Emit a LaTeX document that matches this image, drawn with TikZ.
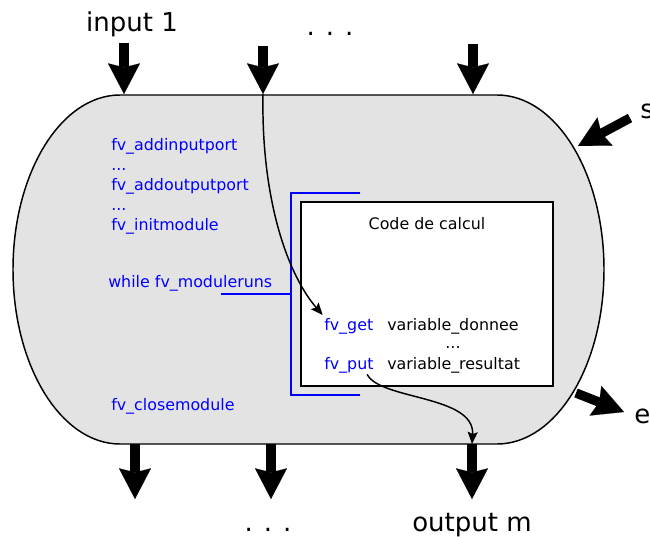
\documentclass[tikz,border=0pt]{standalone}
\usepackage{fontspec}
\setmainfont{DejaVu Sans}
\usetikzlibrary{arrows.meta}
\definecolor{shellgray}{RGB}{227,227,227}
\definecolor{apiblue}{RGB}{0,0,255}

\begin{document}
\begin{tikzpicture}[
    x=0.75pt, y=-0.75pt,
    port/.style={line width=7pt, -{Stealth[length=23pt, width=24pt, inset=3pt, line width=0.1pt]}},
    flow/.style={line width=1.1pt, -{Stealth[length=9pt, width=7.5pt, inset=1.5pt]}},
    biglabel/.style={font=\fontsize{19.5}{23}\selectfont, inner sep=0pt, anchor=base},
    api/.style={text=apiblue, font=\fontsize{11.9}{15}\selectfont, inner sep=0pt, anchor=base west},
    code/.style={font=\fontsize{11.9}{15}\selectfont, inner sep=0pt, anchor=base west}
]
    \useasboundingbox (0,0) rectangle (650,536);

    % Module
    \draw[fill=shellgray, line width=1.1pt] (120,95) -- (497,95)
        arc[start angle=-90, end angle=90, x radius=107, y radius=174.5]
        -- (120,444)
        arc[start angle=90, end angle=270, x radius=107, y radius=174.5] -- cycle;

    % Nodes
    \node[biglabel] (lin1) at (132,31) {input 1};
    \node[biglabel] (ldotsin) at (330,35) {. . .};
    \node[biglabel] (ldotsout) at (268,531) {. . .};
    \node[biglabel] (loutm) at (472,531) {output m};
    \node[biglabel, anchor=base west] (ls) at (640,118) {s};
    \node[biglabel, anchor=base west] (le) at (634,423) {e};

    \node[api] (addin) at (111,150) {fv\_addinputport};
    \node[api] (dots1) at (111,170) {...};
    \node[api] (addout) at (111,190) {fv\_addoutputport};
    \node[api] (dots2) at (111,210) {...};
    \node[api] (init) at (111,230) {fv\_initmodule};
    \node[api] (loop) at (108,287) {while fv\_moduleruns};
    \node[api] (close) at (111,410) {fv\_closemodule};

    \node[draw, fill=white, line width=1.5pt, minimum width=189pt, minimum height=138pt] (calc) at (427,294) {};
    \node[code, anchor=base] (title) at (427,229) {Code de calcul};
    \node[api] (get) at (324,330) {fv\_get};
    \node[code] (donnee) at (387,330) {variable\_donnee};
    \node[code, anchor=base] (dots3) at (453,348) {...};
    \node[api] (put) at (324,369) {fv\_put};
    \node[code] (resultat) at (387,369) {variable\_resultat};

    % Loop bracket
    \draw[apiblue, line width=1.1pt] (221,294) -- (291,294);
    \draw[apiblue, line width=1.1pt] (360,193) -- (291,193) -- (291,395) -- (360,395);

    % Ports
    \coordinate (in1a) at (124,43);  \coordinate (in1) at (124,94);
    \coordinate (in2a) at (263,46);  \coordinate (in2) at (263,94);
    \coordinate (in3a) at (473,44);  \coordinate (in3) at (473,94);
    \coordinate (out1a) at (135,444); \coordinate (out1) at (135,499);
    \coordinate (out2a) at (271,444); \coordinate (out2) at (271,499);
    \coordinate (out3a) at (472,444); \coordinate (out3) at (472,499);
    \coordinate (sa) at (630,118);   \coordinate (sb) at (578,146);
    \coordinate (ea) at (576,393);   \coordinate (eb) at (624,412);

    % Arrows
    \foreach \a/\b in {in1a/in1, in2a/in2, in3a/in3, out1a/out1, out2a/out2, out3a/out3, sa/sb, ea/eb}
        \draw[port] (\a) -- (\b);

    \draw[flow] (in2) .. controls (261,200) and (288,275) .. ([xshift=-1pt, yshift=2pt]get.north west);
    \draw[flow] ([xshift=-5pt, yshift=-1pt]put.south east) .. controls (380,400) and (475,395) .. (out3a);
\end{tikzpicture}
\end{document}
